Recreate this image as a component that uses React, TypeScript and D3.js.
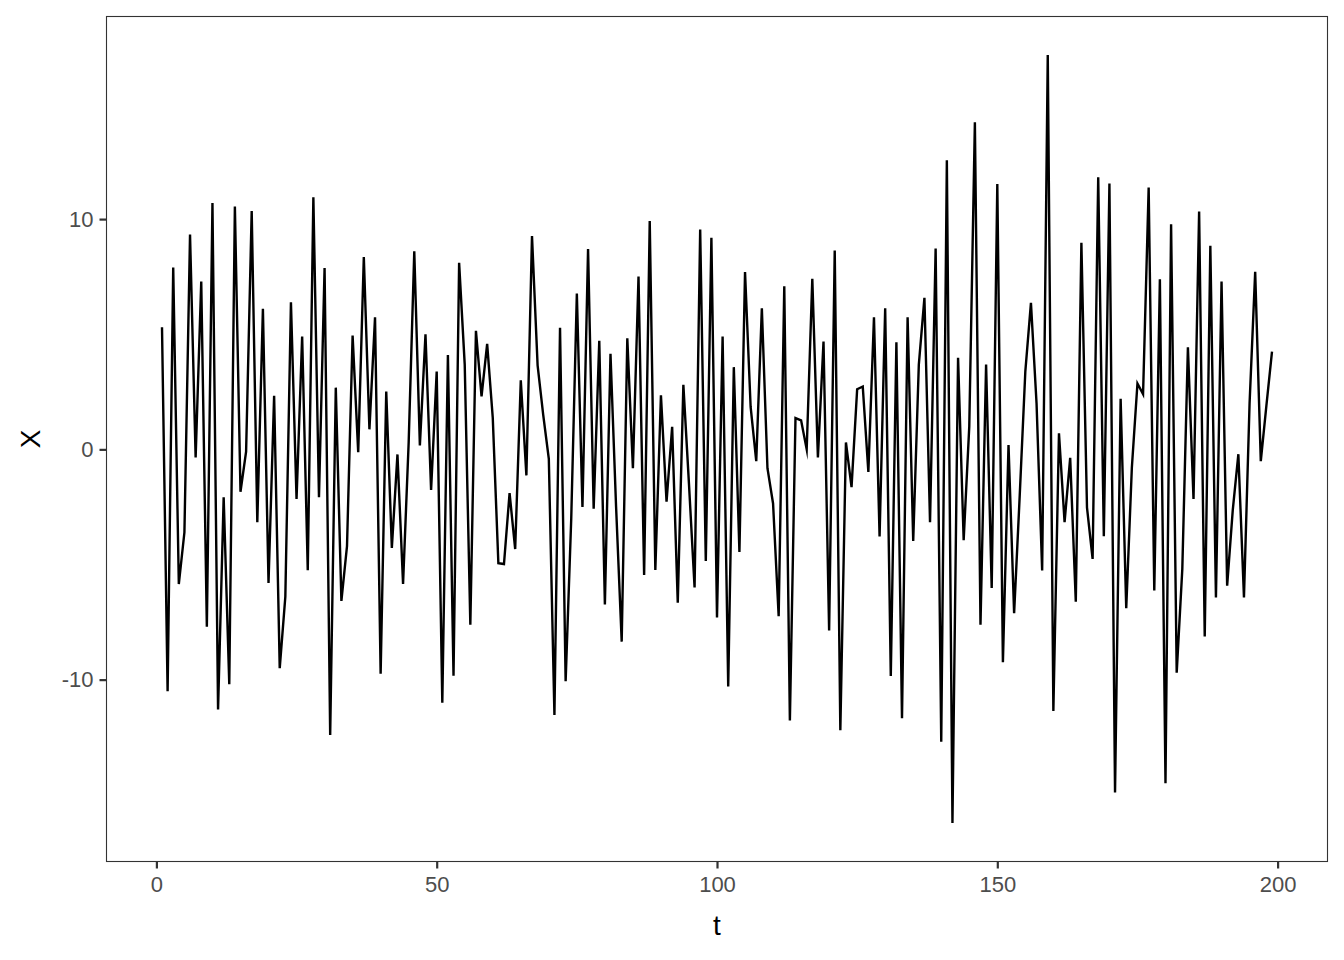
import { useEffect, useRef } from 'react'
import * as d3 from 'd3'

// series values, t = 1..199
const tStart = 1
const xValues = [
  5.3, -10.5, 7.9, -5.85, -3.6, 9.33, -0.35, 7.29, -7.7, 10.7,
  -11.3, -2.08, -10.2, 10.55, -1.84, -0.1, 10.35, -3.16, 6.1, -5.8,
  2.33, -9.5, -6.4, 6.39, -2.15, 4.9, -5.25, 10.95, -2.08, 7.88,
  -12.4, 2.68, -6.58, -4.2, 4.94, -0.12, 8.35, 0.87, 5.74, -9.74,
  2.51, -4.28, -0.22, -5.84, 0.3, 8.6, 0.17, 5.0, -1.76, 3.38,
  -11.0, 4.1, -9.83, 8.1, 3.68, -7.62, 5.15, 2.3, 4.58, 1.38,
  -4.94, -4.98, -1.9, -4.33, 3.0, -1.13, 9.26, 3.65, 1.5, -0.41,
  -11.54, 5.28, -10.07, -3.0, 6.77, -2.5, 8.7, -2.58, 4.72, -6.74,
  4.15, -2.5, -8.35, 4.82, -0.82, 7.51, -5.45, 9.92, -5.24, 2.35,
  -2.27, 0.98, -6.66, 2.8, -1.5, -6.0, 9.55, -4.85, 9.19, -7.3,
  4.9, -10.3, 3.57, -4.46, 7.7, 1.84, -0.51, 6.13, -0.82, -2.35,
  -7.25, 7.08, -11.77, 1.36, 1.26, 0.0, 7.41, -0.35, 4.68, -7.87,
  8.64, -12.2, 0.3, -1.64, 2.61, 2.73, -0.98, 5.74, -3.78, 6.13,
  -9.84, 4.65, -11.68, 5.74, -3.98, 3.68, 6.58, -3.16, 8.72, -12.7,
  12.55, -16.23, 3.98, -3.94, 1.0, 14.2, -7.62, 3.68, -6.02, 11.52,
  -9.24, 0.19, -7.12, -2.0, 3.39, 6.36, 2.0, -5.26, 17.13, -11.36,
  0.7, -3.16, -0.37, -6.62, 8.97, -2.53, -4.76, 11.82, -3.77, 11.55,
  -14.9, 2.2, -6.9, -0.8, 2.86, 2.4, 11.37, -6.13, 7.39, -14.5,
  9.78, -9.7, -5.2, 4.43, -2.15, 10.33, -8.13, 8.84, -6.43, 7.29,
  -5.92, -2.64, -0.21, -6.43, 2.0, 7.71, -0.51, 1.9, 4.24,
]
const xTicks = [0, 50, 100, 150, 200]
const yTicks = [-10, 0, 10]
const xLabel = 't'
const yLabel = 'X'

const App = () => {
  const ref = useRef<SVGSVGElement>(null)

  useEffect(() => {
    const w = 1344
    const h = 960
    const left = 106.5
    const right = 1327.5
    const top = 16.5
    const bottom = 861.5

    const svg = d3.select(ref.current)
      .attr('width', w)
      .attr('height', h)
    svg.selectAll('*').remove()

    const data = xValues.map((v, i) => ({ t: tStart + i, v }))

    // ggplot style 5% expansion
    const tExt = d3.extent(data, d => d.t) as [number, number]
    const vExt = d3.extent(data, d => d.v) as [number, number]
    const tPad = (tExt[1] - tExt[0]) * 0.05
    const vPad = (vExt[1] - vExt[0]) * 0.05

    const xScale = d3.scaleLinear()
      .domain([tExt[0] - tPad, tExt[1] + tPad])
      .range([left, right])
    const yScale = d3.scaleLinear()
      .domain([vExt[0] - vPad, vExt[1] + vPad])
      .range([bottom, top])

    svg.append('rect')
      .attr('width', w)
      .attr('height', h)
      .attr('fill', '#fff')

    const line = d3.line<{ t: number; v: number }>()
      .x(d => xScale(d.t))
      .y(d => yScale(d.v))

    svg.append('path')
      .datum(data)
      .attr('d', line)
      .attr('fill', 'none')
      .attr('stroke', '#000')
      .attr('stroke-width', 2.4)
      .attr('stroke-linejoin', 'miter')
      .attr('stroke-miterlimit', 10)

    // panel border
    svg.append('rect')
      .attr('x', left)
      .attr('y', top)
      .attr('width', right - left)
      .attr('height', bottom - top)
      .attr('fill', 'none')
      .attr('stroke', '#333333')
      .attr('stroke-width', 1.1)

    const font = '"Liberation Sans", Arial, sans-serif'
    const fmt = (d: d3.NumberValue) => String(d)

    // x axis
    const xAxis = d3.axisBottom(xScale).tickValues(xTicks).tickSize(7).tickPadding(8).tickFormat(fmt)
    const gx = svg.append('g')
      .attr('transform', `translate(0, ${bottom})`)
      .call(xAxis)
    gx.select('.domain').remove()
    gx.selectAll('line').attr('stroke', '#333333').attr('stroke-width', 2.2)
    gx.selectAll('text')
      .attr('fill', '#4d4d4d')
      .style('font-family', font)
      .style('font-size', '22px')

    // y axis
    const yAxis = d3.axisLeft(yScale).tickValues(yTicks).tickSize(7).tickPadding(6).tickFormat(fmt)
    const gy = svg.append('g')
      .attr('transform', `translate(${left}, 0)`)
      .call(yAxis)
    gy.select('.domain').remove()
    gy.selectAll('line').attr('stroke', '#333333').attr('stroke-width', 2.2)
    gy.selectAll('text')
      .attr('fill', '#4d4d4d')
      .style('font-family', font)
      .style('font-size', '22px')

    // axis titles
    svg.append('text')
      .attr('x', (left + right) / 2)
      .attr('y', 935)
      .attr('text-anchor', 'middle')
      .style('font-family', font)
      .style('font-size', '28px')
      .text(xLabel)

    svg.append('text')
      .attr('transform', `translate(40, ${(top + bottom) / 2}) rotate(-90)`)
      .attr('text-anchor', 'middle')
      .style('font-family', font)
      .style('font-size', '28px')
      .text(yLabel)
  }, [])

  return (
    <div style={{ position: 'absolute', left: 0, top: 0 }}>
      <svg ref={ref} style={{ display: 'block' }}></svg>
    </div>
  )
}

export default App
